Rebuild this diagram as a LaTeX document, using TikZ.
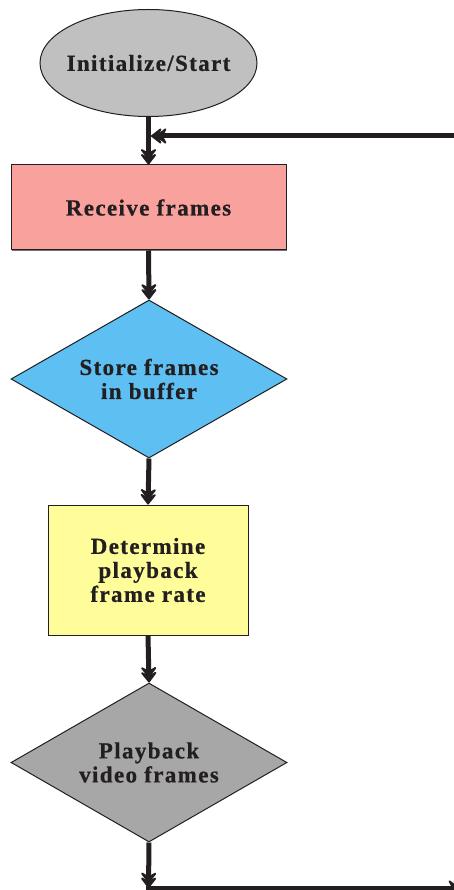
\documentclass[tikz,border=0pt]{standalone}
\usepackage{fontspec}
\setmainfont{Liberation Serif}[LetterSpace=6, BoldFeatures={FakeBold=0.6}]
\usetikzlibrary{arrows.meta,shapes.geometric,shadows}

\definecolor{ink}{HTML}{231F20}
\definecolor{startgray}{HTML}{C0C0C0}
\definecolor{recvpink}{HTML}{F9A19D}
\definecolor{storeblue}{HTML}{5EBFF2}
\definecolor{rateyellow}{HTML}{FFFD9A}
\definecolor{playgray}{HTML}{A7A7A7}

\tikzset{
  box/.style={draw=ink, line width=1pt, inner sep=0pt, align=center,
    text=ink, font=\bfseries\fontsize{23}{24}\selectfont},
  terminal/.style={box, ellipse, inner xsep=-6pt, fill=startgray},
  process/.style={box, rectangle,
    drop shadow={shadow xshift=1.4pt, shadow yshift=-1.4pt, fill=black!55, opacity=1}},
  decision/.style={box, diamond, aspect=1.75},
  flow/.style={draw=ink, line width=5pt,
    -{Stealth[length=13pt,width=20pt,inset=5.5pt,sep=-5.5pt,round=false]
      Stealth[length=13pt,width=20pt,inset=5.5pt,round=false]}},
}

\begin{document}
\begin{tikzpicture}[x=1pt,y=-1pt]
  \useasboundingbox (0,0) rectangle (454,890);

  \node[terminal, minimum width=217pt, minimum height=107pt] (start) at (148.5,63) {Initialize/Start};
  \node[process, fill=recvpink, minimum width=275pt, minimum height=85pt] (recv) at (148.5,207.5) {Receive frames};
  \node[decision, fill=storeblue, minimum width=276pt, minimum height=158pt] (store) at (149,379) {Store frames\\in buffer};
  \node[process, fill=rateyellow, minimum width=200pt, minimum height=130pt] (rate) at (148,570) {Determine\\playback\\frame rate};
  \node[decision, fill=playgray, minimum width=276pt, minimum height=159pt] (play) at (149,762.5) {Playback\\video frames};

  % main chain
  \draw[flow] (start.south) -- (recv.north);
  \draw[flow] (recv.south) -- (store.north);
  \draw[flow] (store.south) -- (rate.north);
  \draw[flow] (rate.south) -- (play.north);

  % loop back into the top of the chain
  \coordinate (loopin) at (460,136);
  \coordinate (join) at (148.5,136);
  \draw[flow, shorten >=2.5pt] (loopin) -- (join);

  % exit at the bottom
  \coordinate (down) at (148.5,888);
  \coordinate (corner) at (146,888);
  \coordinate (out) at (464,888);
  \draw[flow] (play.south) -- (down);
  \draw[flow] (corner) -- (out);
\end{tikzpicture}
\end{document}
